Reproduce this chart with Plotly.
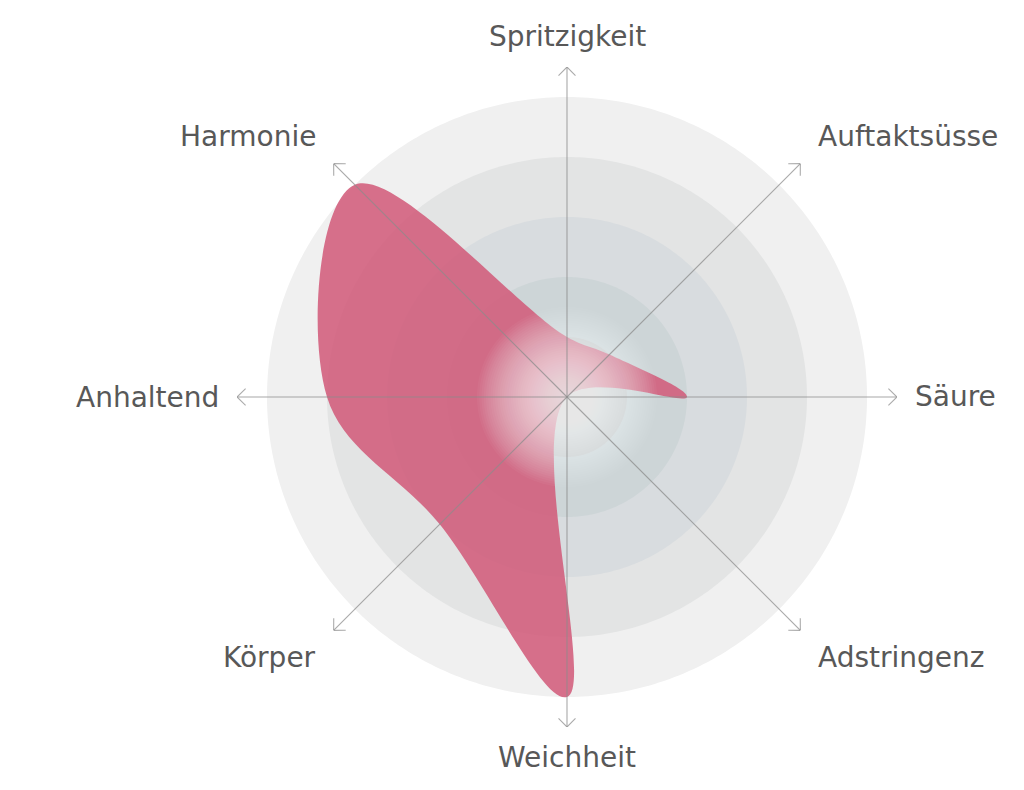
import numpy as np
import plotly.graph_objects as go

# Geschmacksprofil (Skala 0-5)
categories = ["Spritzigkeit", "Auftaktsüsse", "Säure", "Adstringenz",
              "Weichheit", "Körper", "Anhaltend", "Harmonie"]
values = [1, 1, 2, 0, 5, 3, 4, 5]
levels = [5, 4, 3, 2, 1]
ring_colors = ["#f0f0f0", "#e3e4e4", "#d8dcdf", "#cdd5d7", "#c6cecf"]

W, H = 1024, 790
OFF = 8                    # page body margin
CX, CY = 567 - OFF, 397 - OFF
UNIT = 60                  # pixels per level
RMAX = 5.5                 # axis length incl. arrow

angles = [i * 360 / len(categories) for i in range(len(categories))]
circle = np.linspace(0, 360, 361)

fig = go.Figure()

# rings
for lv, col in zip(levels, ring_colors):
    fig.add_trace(go.Scatterpolar(
        r=[lv] * len(circle), theta=circle, mode="lines", fill="toself",
        fillcolor=col, line=dict(width=0), hoverinfo="skip"))

# profile shape
fig.add_trace(go.Scatterpolar(
    r=values + values[:1], theta=angles + angles[:1],
    mode="lines", fill="toself", fillcolor="rgba(209,88,120,0.85)",
    line=dict(width=0, shape="spline", smoothing=1.05),
    hoverinfo="skip"))

# white glow in the middle
n_glow = 40
for k in range(n_glow, 0, -1):
    rr = 1.5 * k / n_glow
    fig.add_trace(go.Scatterpolar(
        r=[rr] * len(circle), theta=circle, mode="lines", fill="toself",
        fillcolor="rgba(255,255,255,0.04)", line=dict(width=0),
        hoverinfo="skip"))

# axis lines + chevron arrow heads
arm = 12 / UNIT
back = arm * np.cos(np.radians(45))
side = np.degrees(arm * np.sin(np.radians(45)) / (RMAX - back))
for a in angles:
    fig.add_trace(go.Scatterpolar(
        r=[0, RMAX], theta=[a, a], mode="lines",
        line=dict(color="rgba(140,140,140,0.75)", width=1.1),
        hoverinfo="skip"))
    fig.add_trace(go.Scatterpolar(
        r=[RMAX - back, RMAX, RMAX - back], theta=[a - side, a, a + side],
        mode="lines", line=dict(color="rgba(150,150,150,0.8)", width=1.1),
        hoverinfo="skip"))

# labels
annotations = []
for name, a in zip(categories, angles):
    rad = np.radians(90 - a)
    c, s = np.cos(rad), np.sin(rad)
    rx = 346 if abs(s) < 0.1 else 352
    ry = 360 if abs(c) < 0.1 else 369
    px = CX + c * rx
    py = CY - s * ry
    if abs(c) < 0.1:
        xa = "center"
    elif c > 0:
        xa = "left"
    else:
        xa = "right"
    annotations.append(dict(
        text=name, x=px / W, y=1 - py / H, xref="paper", yref="paper",
        xanchor=xa, yanchor="middle", showarrow=False,
        font=dict(family="DejaVu Sans", size=28, color="#585858")))

R_PX = RMAX * UNIT
fig.update_layout(
    width=W, height=H,
    margin=dict(l=0, r=0, t=0, b=0),
    paper_bgcolor="white",
    showlegend=False,
    annotations=annotations,
    polar=dict(
        domain=dict(x=[(CX - R_PX) / W, (CX + R_PX) / W],
                    y=[(H - CY - R_PX) / H, (H - CY + R_PX) / H]),
        bgcolor="rgba(0,0,0,0)",
        radialaxis=dict(visible=False, range=[0, RMAX]),
        angularaxis=dict(visible=False, rotation=90, direction="clockwise"),
    ),
)

fig.write_html("out.html")
